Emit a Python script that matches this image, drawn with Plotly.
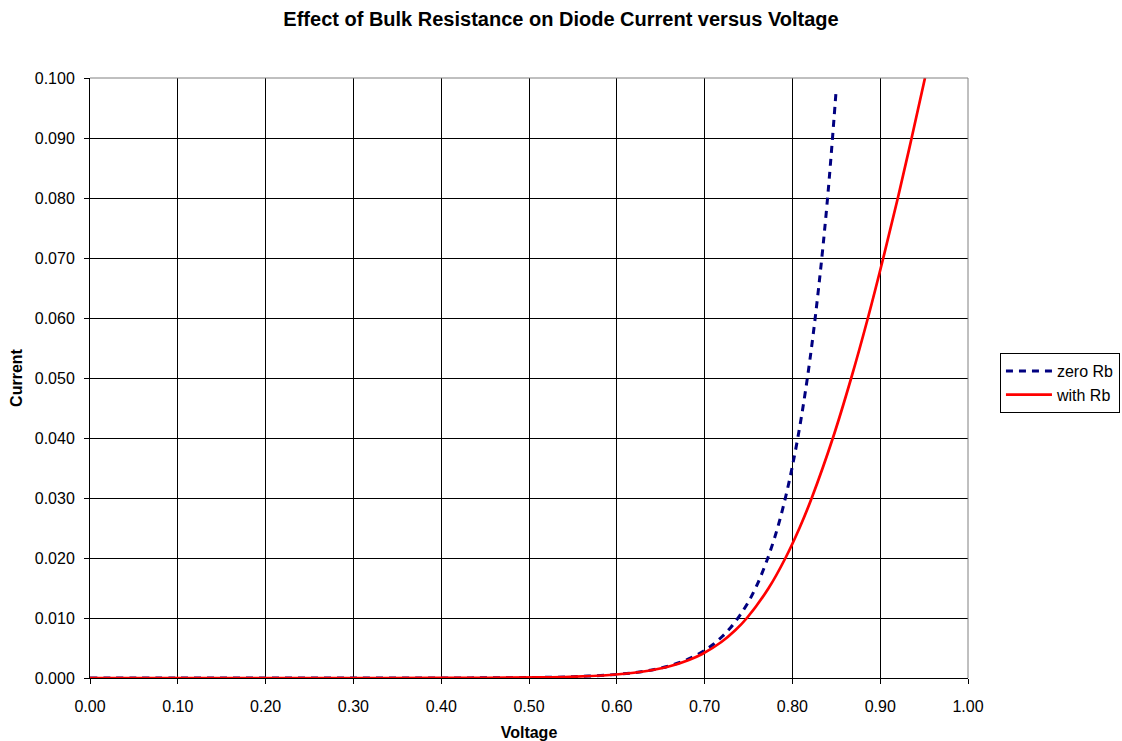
import plotly.graph_objects as go

# zero Rb series (voltage, current)
voltage_zero = [0.00, 0.10, 0.20, 0.30, 0.40, 0.45, 0.50, 0.55, 0.60, 0.62, 0.64, 0.66, 0.68,
                0.70, 0.71, 0.72, 0.73, 0.74, 0.75, 0.76, 0.77, 0.78, 0.79, 0.80,
                0.81, 0.82, 0.83, 0.84, 0.85]
current_zero = [0.0, 0.0, 0.0, 0.0, 0.00001, 0.000028, 0.000077, 0.00021, 0.00060, 0.00090,
                0.00135, 0.00203, 0.00305, 0.00459, 0.00563, 0.00691, 0.00847, 0.0104,
                0.0127, 0.0156, 0.0192, 0.0235, 0.0288, 0.0353, 0.0433, 0.0531, 0.0652,
                0.0799, 0.0983]

# with Rb series (voltage, current)
voltage_rb = [0.00, 0.10, 0.20, 0.30, 0.40, 0.4535, 0.5126, 0.5467, 0.5919, 0.6263, 0.6613,
              0.6821, 0.6973, 0.7191, 0.7352, 0.7482, 0.7730, 0.7921, 0.8081, 0.8220,
              0.8461, 0.8670, 0.8860, 0.9035, 0.9201, 0.9358, 0.9510]
current_rb = [0.0, 0.0, 0.0, 0.0, 0.00001, 0.00003, 0.0001, 0.0002, 0.0005, 0.001, 0.002,
              0.003, 0.004, 0.006, 0.008, 0.010, 0.015, 0.020, 0.025, 0.030, 0.040, 0.050,
              0.060, 0.070, 0.080, 0.090, 0.100]

x_ticks = [0.0, 0.1, 0.2, 0.3, 0.4, 0.5, 0.6, 0.7, 0.8, 0.9, 1.0]
y_ticks = [0.0, 0.01, 0.02, 0.03, 0.04, 0.05, 0.06, 0.07, 0.08, 0.09, 0.10]

FONT = "Liberation Sans, Arial, sans-serif"

fig = go.Figure()
fig.add_trace(go.Scatter(x=voltage_zero, y=current_zero, mode="lines", name="zero Rb",
                         line=dict(color="#000080", width=3, dash="7px,6px", shape="spline")))
fig.add_trace(go.Scatter(x=voltage_rb, y=current_rb, mode="lines", name="with Rb",
                         line=dict(color="#FF0000", width=2.7, shape="spline")))

fig.update_layout(
    width=1122, height=741,
    margin=dict(l=90, r=154, t=78, b=63, autoexpand=False),
    paper_bgcolor="white", plot_bgcolor="white",
    font=dict(family=FONT, size=16, color="black"),
    title=dict(text="<b>Effect of Bulk Resistance on Diode Current versus Voltage</b>",
               x=0.5, xanchor="center", y=0.975, yanchor="middle",
               font=dict(family=FONT, size=20, color="black")),
    legend=dict(x=1.0364, y=0.5417, xanchor="left", yanchor="top",
                bordercolor="black", borderwidth=1, bgcolor="white",
                font=dict(family=FONT, size=16), tracegroupgap=0, itemwidth=46),
    showlegend=True,
    shapes=[
        dict(type="line", xref="paper", yref="paper", x0=0, x1=1, y0=1, y1=1,
             line=dict(color="#808080", width=1)),
        dict(type="line", xref="paper", yref="paper", x0=1, x1=1, y0=0, y1=1,
             line=dict(color="#808080", width=1)),
    ],
)
fig.update_xaxes(range=[0, 1], tickvals=x_ticks, tickformat=".2f",
                 showgrid=True, gridcolor="black", gridwidth=1,
                 showline=True, linecolor="black", linewidth=1,
                 ticks="outside", ticklen=5, tickcolor="black", zeroline=False,
                 ticklabelstandoff=9, automargin=False,
                 title=dict(text="<b>Voltage</b>", font=dict(family=FONT, size=16), standoff=14))
fig.update_yaxes(range=[0, 0.1], tickvals=y_ticks, tickformat=".3f",
                 showgrid=True, gridcolor="black", gridwidth=1,
                 showline=True, linecolor="black", linewidth=1,
                 ticks="outside", ticklen=5, tickcolor="black", zeroline=False,
                 ticklabelstandoff=6, automargin=False,
                 title=dict(text="<b>Current</b>", font=dict(family=FONT, size=16), standoff=8))

fig.write_html("out.html")
